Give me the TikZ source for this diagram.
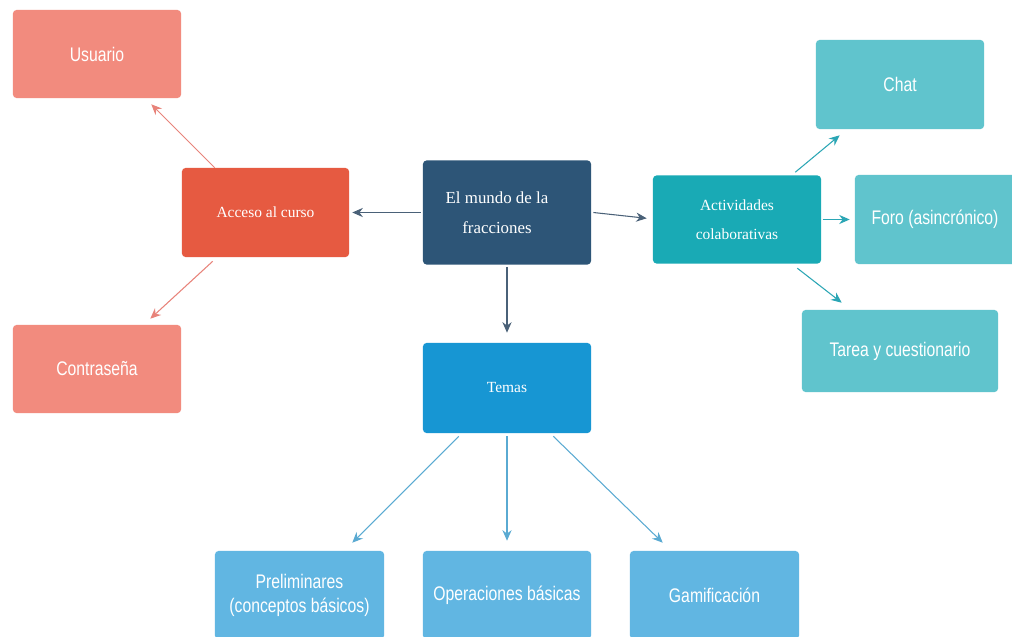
\documentclass[tikz,border=0pt]{standalone}
\usepackage{fontspec}
\setmainfont{Liberation Serif}
\newfontfamily\condfont[FakeStretch=0.8]{Liberation Sans}
\usetikzlibrary{arrows.meta}
\definecolor{salmon}{HTML}{F28B7E}
\definecolor{redbox}{HTML}{E65A41}
\definecolor{navy}{HTML}{2D5577}
\definecolor{bluebox}{HTML}{1796D3}
\definecolor{lightblue}{HTML}{61B6E2}
\definecolor{tealbox}{HTML}{19AAB5}
\definecolor{lightteal}{HTML}{60C4CD}
\definecolor{redarrow}{HTML}{E8837A}
\definecolor{navyarrow}{HTML}{4A6178}
\definecolor{bluearrow}{HTML}{5AAAD2}
\definecolor{tealarrow}{HTML}{2BA6B5}
\tikzset{
  box/.style={rectangle, rounded corners=2.5pt, text=white, align=center, inner sep=2pt},
  serifbox/.style={box, font=\fontsize{12}{21}\selectfont},
  sansbox/.style={box, font=\condfont\fontsize{14}{17}\selectfont},
  conn/.style={line width=0.75pt, -{Stealth[length=7.5pt,width=6.5pt]}},
}
\begin{document}
\begin{tikzpicture}[x=0.025cm,y=-0.025cm]
\clip (0,0) rectangle (1012,637);
\fill[white] (0,0) rectangle (1012,637);

% left group
\node[sansbox, fill=salmon, minimum width=4.2cm, minimum height=2.2cm] (usuario) at (97,54) {Usuario};
\node[serifbox, fill=redbox, minimum width=4.175cm, minimum height=2.225cm, font=\fontsize{11}{20}\selectfont] (acceso) at (265.5,212.5) {Acceso al curso};
\node[sansbox, fill=salmon, minimum width=4.2cm, minimum height=2.2cm] (contra) at (97,369) {Contraseña};

% center
\node[serifbox, fill=navy, minimum width=4.2cm, minimum height=2.6cm] (mundo) at (507,212.5) {\hspace*{-0.5cm}El mundo de la\\\hspace*{-0.5cm}fracciones};
\node[serifbox, fill=bluebox, minimum width=4.2cm, minimum height=2.25cm, font=\fontsize{11}{20}\selectfont] (temas) at (507,388) {Temas};

% right group
\node[serifbox, fill=tealbox, minimum width=4.2cm, minimum height=2.2cm, font=\fontsize{11}{20.5}\selectfont] (activ) at (737,219.5) {Actividades\\colaborativas};
\node[sansbox, fill=lightteal, minimum width=4.2cm, minimum height=2.225cm] (chat) at (900,84.5) {Chat};
\node[sansbox, fill=lightteal, minimum width=4.2cm, minimum height=2.225cm] (foro) at (939,219.5) {\hspace*{-0.2cm}Foro (asincrónico)};
\node[sansbox, fill=lightteal, minimum width=4.9cm, minimum height=2.05cm] (tarea) at (900,351) {Tarea y cuestionario};

% bottom group
\node[sansbox, fill=lightblue, minimum width=4.225cm, minimum height=2.2cm] (prelim) at (299.5,595) {Preliminares\\(conceptos básicos)};
\node[sansbox, fill=lightblue, minimum width=4.2cm, minimum height=2.2cm] (oper) at (507,595) {Operaciones básicas};
\node[sansbox, fill=lightblue, minimum width=4.225cm, minimum height=2.2cm] (gamif) at (714.5,595) {Gamificación};

% connectors
\draw[conn, redarrow] ([xshift=0.825cm]acceso.north west) -- ([xshift=-0.75cm,yshift=-0.15cm]usuario.south east);
\draw[conn, redarrow] ([xshift=0.775cm,yshift=-0.1cm]acceso.south west) -- ([xshift=-0.775cm,yshift=0.15cm]contra.north east);

\draw[conn, navyarrow] ([xshift=-0.05cm]mundo.west) -- ([xshift=0.075cm]acceso.east);
\draw[conn, navyarrow] ([xshift=0.05cm]mundo.east) -- ([xshift=-0.15cm,yshift=0.03cm]activ.west);
\draw[conn, navyarrow] ([yshift=-0.05cm]mundo.south) -- ([yshift=0.25cm]temas.north);

\draw[conn, tealarrow] ([xshift=-0.65cm,yshift=0.075cm]activ.north east) -- ([xshift=0.6cm,yshift=-0.15cm]chat.south west);
\draw[conn, tealarrow] ([xshift=0.03cm]activ.east) -- ([xshift=-0.125cm]foro.west);
\draw[conn, tealarrow] ([xshift=-0.6cm,yshift=-0.11cm]activ.south east) -- ([xshift=1cm,yshift=0.175cm]tarea.north west);

\draw[conn, bluearrow] ([xshift=0.9cm,yshift=-0.075cm]temas.south west) -- ([xshift=-0.8cm,yshift=0.2cm]prelim.north east);
\draw[conn, bluearrow] ([yshift=-0.075cm]temas.south) -- ([yshift=0.25cm]oper.north);
\draw[conn, bluearrow] ([xshift=-0.95cm,yshift=-0.075cm]temas.south east) -- ([xshift=0.825cm,yshift=0.2cm]gamif.north west);
\end{tikzpicture}
\end{document}
